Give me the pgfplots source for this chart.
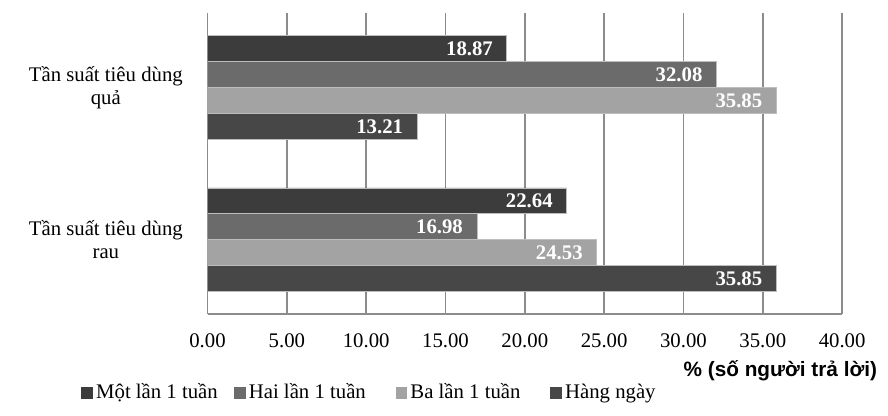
\documentclass[border=0pt]{standalone}
\usepackage{fontspec}
\setmainfont{Liberation Serif}
\newfontfamily\labelsans{Liberation Sans}
\usepackage{pgfplots}
\pgfplotsset{compat=1.18}

\definecolor{motlan}{HTML}{3C3C3C}
\definecolor{hailan}{HTML}{6B6B6B}
\definecolor{balan}{HTML}{A3A3A3}
\definecolor{hangngay}{HTML}{474747}
\definecolor{gridgray}{HTML}{8C8C8C}
\definecolor{edgegray}{HTML}{BDBDBD}

\newcommand\chartfont{\fontsize{10.4}{11.5}\selectfont}

\begin{document}
\begin{tikzpicture}
\begin{axis}[
    scale only axis,
    width=318pt, height=151pt,
    xbar, bar width=0.17,
    xmin=0, xmax=40,
    ymin=-0.49, ymax=1.49,
    xtick={0,5,...,40},
    ytick={0,1},
    yticklabels={{Tần suất tiêu dùng\\rau},{Tần suất tiêu dùng\\quả}},
    /pgf/number format/assume math mode=true,
    xticklabel style={font=\chartfont, yshift=-6pt,
        /pgf/number format/.cd, fixed, fixed zerofill, precision=2},
    yticklabel style={font=\chartfont, align=center, xshift=-4.6pt},
    axis x line*=bottom,
    axis y line*=left,
    x axis line style={draw=gridgray, line width=0.8pt, -},
    y axis line style={draw=none},
    tick style={draw=none},
    xmajorgrids,
    grid style={draw=gridgray, line width=0.8pt},
    xlabel={\% (số người trả lời)},
    xlabel style={font=\labelsans\bfseries\chartfont, at={(rel axis cs:1,0)},
        anchor=east, xshift=21pt, yshift=-28.5pt},
    nodes near coords={\pgfmathprintnumber[fixed, fixed zerofill, precision=2]{\pgfplotspointmeta}},
    point meta=x,
    nodes near coords style={font=\chartfont\bfseries, text=white,
        anchor=east, xshift=-3.5pt},
    every axis plot/.append style={draw=edgegray, line width=0.4pt},
    legend columns=4,
    legend cell align=left,
    legend style={draw=none, fill=none, inner sep=0pt,
        at={(rel axis cs:0,0)}, anchor=west, xshift=-63.5pt, yshift=-39.5pt,
        font=\chartfont, column sep=0pt,
        nodes={inner xsep=1.5pt, inner ysep=1pt, text height=8pt, text depth=2.5pt}},
    legend image code/.code={\fill[#1, draw=none] (0pt,-3pt) rectangle (6pt,3pt);},
]

\addplot[fill=motlan, bar shift=0.255] coordinates {(22.64,0) (18.87,1)};
\addlegendentry{\makebox[67.5pt][l]{Một lần 1 tuần}}

\addplot[fill=hailan, bar shift=0.085] coordinates {(16.98,0) (32.08,1)};
\addlegendentry{\makebox[72pt][l]{Hai lần 1 tuần}}

\addplot[fill=balan, bar shift=-0.085] coordinates {(24.53,0) (35.85,1)};
\addlegendentry{\makebox[68.5pt][l]{Ba lần 1 tuần}}

\addplot[fill=hangngay, bar shift=-0.255] coordinates {(35.85,0) (13.21,1)};
\addlegendentry{Hàng ngày}

\end{axis}
\path (current axis.south west) ++(-103.5pt,-50pt) node[inner sep=0pt] {};
\path (current axis.north east) ++(22.5pt,6pt) node[inner sep=0pt] {};
\end{tikzpicture}
\end{document}
